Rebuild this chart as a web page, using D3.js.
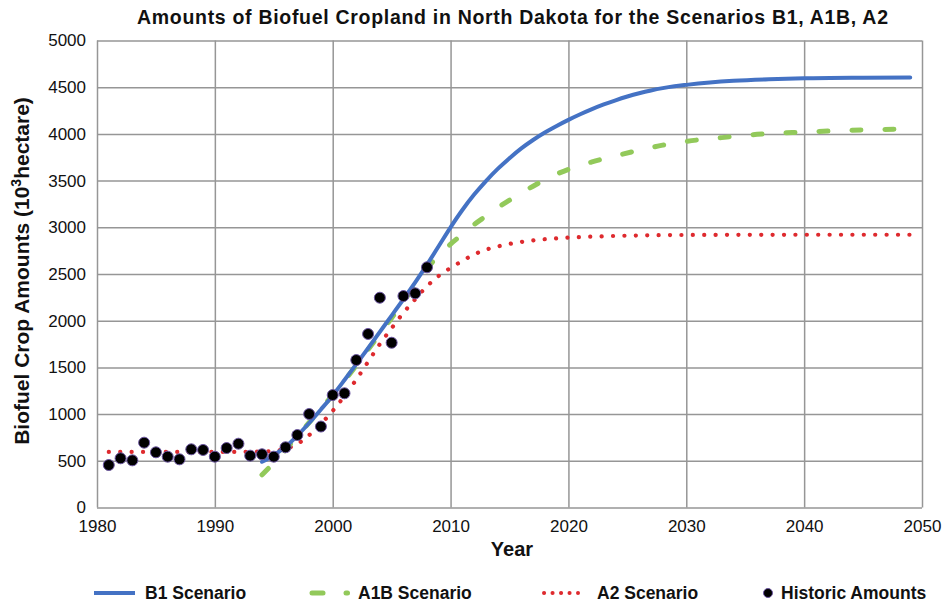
<!DOCTYPE html>
<html>
<head>
<meta charset="utf-8">
<script src="https://cdn.jsdelivr.net/npm/d3@7"></script>
<style>
  html, body { margin: 0; padding: 0; background: #fff; }
  svg text { font-family: "Liberation Sans", Arial, Helvetica, sans-serif; fill: #111; }
</style>
</head>
<body>
<svg id="chart" width="946" height="605"></svg>
<script>
// ---------------- DATA ----------------
const xTicks = [1980, 1990, 2000, 2010, 2020, 2030, 2040, 2050];
const yTicks = [0, 500, 1000, 1500, 2000, 2500, 3000, 3500, 4000, 4500, 5000];

const histYears  = [1981,1982,1983,1984,1985,1986,1987,1988,1989,1990,1991,1992,1993,1994,1995,1996,1997,1998,1999,2000,2001,2002,2003,2004,2005,2006,2007,2008];
const histValues = [455, 527, 505, 694, 591, 544, 516, 623, 616, 544, 637, 683, 555, 570, 544, 645, 776, 1001, 867, 1204, 1223, 1579, 1858, 2246, 1764, 2264, 2293, 2572];

const b1Years  = [1994,1995,1996,1997,1998,1999,2000,2001,2002,2003,2004,2005,2006,2007,2008,2009,2010,2011,2012,2013,2014,2015,2016,2017,2018,2019,2020,2021,2022,2023,2024,2025,2026,2027,2028,2029,2030,2032,2034,2037,2040,2045,2049];
const b1Values = [490, 560, 650, 770, 905, 1050, 1200, 1365, 1535, 1705, 1880, 2055, 2230, 2410, 2600, 2800, 3000, 3185, 3350, 3495, 3625, 3740, 3845, 3935, 4015, 4085, 4150, 4210, 4265, 4315, 4360, 4400, 4435, 4465, 4490, 4510, 4525, 4550, 4568, 4585, 4595, 4602, 4605];

const a1bYears  = [1994,1995,1996,1997,1998,1999,2000,2001,2002,2003,2004,2005,2006,2007,2008,2009,2010,2011,2012,2013,2014,2015,2016,2017,2018,2020,2022,2024,2026,2028,2030,2033,2036,2039,2042,2045,2049];
const a1bValues = [350, 480, 620, 765, 910, 1055, 1205, 1360, 1520, 1690, 1860, 2030, 2205, 2385, 2560, 2700, 2820, 2925, 3030, 3120, 3210, 3290, 3370, 3440, 3510, 3620, 3700, 3765, 3825, 3880, 3920, 3960, 3995, 4015, 4030, 4042, 4052];

const a2Years  = [1981,1985,1990,1994,1995,1996,1997,1998,1999,2000,2001,2002,2003,2004,2005,2006,2007,2008,2009,2010,2011,2012,2013,2014,2015,2017,2019,2022,2025,2030,2040,2049];
const a2Values = [595, 595, 595, 598, 605, 628, 680, 775, 895, 1035, 1195, 1370, 1560, 1750, 1920, 2085, 2230, 2370, 2480, 2565, 2640, 2710, 2760, 2795, 2822, 2860, 2882, 2900, 2910, 2918, 2920, 2920];

const seriesNames = ["B1 Scenario", "A1B Scenario", "A2 Scenario", "Historic Amounts"];
const colors = { b1: "#4472C4", a1b: "#92C95A", a2: "#DE2A2E", hist: "#000000" };

// ---------------- LAYOUT ----------------
const svg = d3.select("#chart");
const plot = { left: 97, right: 922, top: 40.5, bottom: 507.5 };

const x = d3.scaleLinear().domain([1980, 2050]).range([plot.left, plot.right]);
const y = d3.scaleLinear().domain([0, 5000]).range([plot.bottom, plot.top]);

// gridlines + tick labels
const gridColor = "#969696";
svg.append("g")
  .attr("transform", `translate(0,${plot.bottom})`)
  .call(d3.axisBottom(x).tickValues(xTicks).tickSize(-(plot.bottom - plot.top)).tickFormat(d3.format("d")).tickPadding(12))
  .call(g => g.select(".domain").remove())
  .call(g => g.selectAll("line").attr("stroke", gridColor).attr("stroke-width", 1.5))
  .call(g => g.selectAll("text").attr("font-size", 17).attr("fill", "#111"));

svg.append("g")
  .attr("transform", `translate(${plot.left},0)`)
  .call(d3.axisLeft(y).tickValues(yTicks).tickSize(-(plot.right - plot.left)).tickFormat(d3.format("d")).tickPadding(11))
  .call(g => g.select(".domain").remove())
  .call(g => g.selectAll("line").attr("stroke", gridColor).attr("stroke-width", 1.5))
  .call(g => g.selectAll("text").attr("font-size", 17).attr("fill", "#111"));

// lines
const mk = (xs, vs) => xs.map((d, i) => ({ year: d, value: vs[i] }));
const line = d3.line().x(d => x(d.year)).y(d => y(d.value)).curve(d3.curveMonotoneX);

svg.append("path").datum(mk(a2Years, a2Values))
  .attr("d", line).attr("fill", "none").attr("stroke", colors.a2)
  .attr("stroke-width", 4.2).attr("stroke-linecap", "round").attr("stroke-dasharray", "0.1 11.3");

svg.append("path").datum(mk(a1bYears, a1bValues))
  .attr("d", line).attr("fill", "none").attr("stroke", colors.a1b)
  .attr("stroke-width", 5).attr("stroke-linecap", "round").attr("stroke-dasharray", "9 24");

svg.append("path").datum(mk(b1Years, b1Values))
  .attr("d", line).attr("fill", "none").attr("stroke", colors.b1)
  .attr("stroke-width", 4).attr("stroke-linecap", "round");

// historic points
svg.append("g").selectAll("circle").data(mk(histYears, histValues)).join("circle")
  .attr("cx", d => x(d.year)).attr("cy", d => y(d.value)).attr("r", 5.5)
  .attr("fill", "#000").attr("stroke", "#6b55a0").attr("stroke-width", 1);

// title
svg.append("text").attr("x", 512.5).attr("y", 24).attr("text-anchor", "middle")
  .attr("font-size", 19.5).attr("font-weight", "bold")
  .attr("textLength", 751).attr("lengthAdjust", "spacing")
  .text("Amounts of Biofuel Cropland in North Dakota for the Scenarios B1, A1B, A2");

// axis titles
svg.append("text").attr("x", 512).attr("y", 556).attr("text-anchor", "middle")
  .attr("font-size", 20).attr("font-weight", "bold").text("Year");

const yl = svg.append("text").attr("transform", "translate(29,271) rotate(-90)")
  .attr("text-anchor", "middle").attr("font-size", 21).attr("font-weight", "bold");
yl.append("tspan").text("Biofuel Crop Amounts (10");
yl.append("tspan").attr("font-size", 14).attr("dy", -8).text("3");
yl.append("tspan").attr("dy", 8).text("hectare)");

// legend
const ly = 593;
const lg = svg.append("g").attr("font-size", 17.5).attr("font-weight", "bold");
lg.append("line").attr("x1", 94).attr("x2", 135).attr("y1", ly).attr("y2", ly)
  .attr("stroke", colors.b1).attr("stroke-width", 4);
lg.append("text").attr("x", 145).attr("y", ly + 6).text(seriesNames[0]);

lg.append("line").attr("x1", 312).attr("x2", 323).attr("y1", ly).attr("y2", ly)
  .attr("stroke", colors.a1b).attr("stroke-width", 5).attr("stroke-linecap", "round");
lg.append("line").attr("x1", 346).attr("x2", 347.5).attr("y1", ly).attr("y2", ly)
  .attr("stroke", colors.a1b).attr("stroke-width", 5).attr("stroke-linecap", "round");
lg.append("text").attr("x", 358).attr("y", ly + 6).text(seriesNames[1]);

lg.append("line").attr("x1", 544).attr("x2", 578).attr("y1", ly).attr("y2", ly)
  .attr("stroke", colors.a2).attr("stroke-width", 4).attr("stroke-linecap", "round").attr("stroke-dasharray", "0.1 8.4");
lg.append("text").attr("x", 597).attr("y", ly + 6).text(seriesNames[2]);

lg.append("circle").attr("cx", 768).attr("cy", ly).attr("r", 4.5).attr("fill", "#000").attr("stroke", "#6b55a0");
lg.append("text").attr("x", 781).attr("y", ly + 6).text(seriesNames[3]);
</script>
</body>
</html>
